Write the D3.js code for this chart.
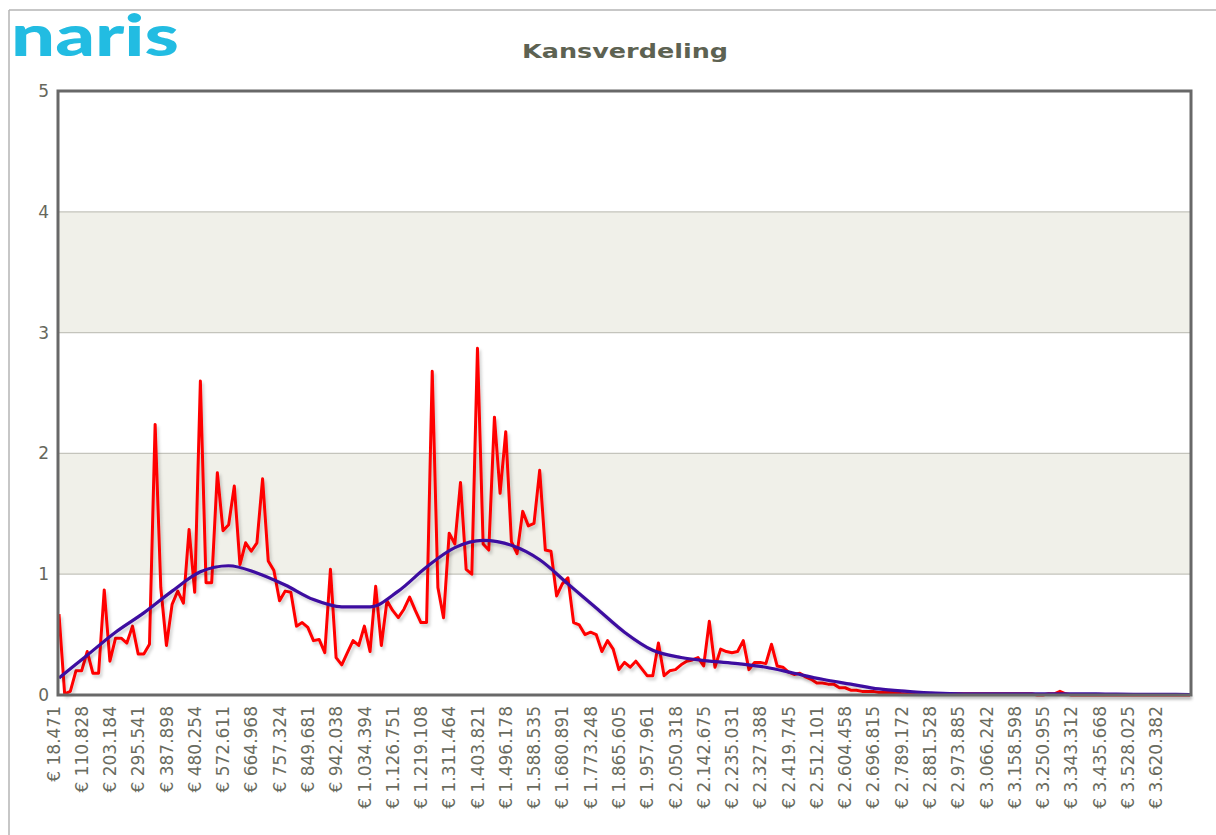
<!DOCTYPE html>
<html lang="nl">
<head>
<meta charset="UTF-8">
<title>Kansverdeling</title>
<script src="https://d3js.org/d3.v7.min.js"></script>
<style>
  body { margin: 0; background: #fff; }
  svg { display: block; }
</style>
</head>
<body>
<svg width="1216" height="835"></svg>
<script>
// tick labels on the x axis (one per 5 bins)
const xLabels = ["€ 18.471", "€ 110.828", "€ 203.184", "€ 295.541", "€ 387.898", "€ 480.254",
  "€ 572.611", "€ 664.968", "€ 757.324", "€ 849.681", "€ 942.038", "€ 1.034.394",
  "€ 1.126.751", "€ 1.219.108", "€ 1.311.464", "€ 1.403.821", "€ 1.496.178", "€ 1.588.535",
  "€ 1.680.891", "€ 1.773.248", "€ 1.865.605", "€ 1.957.961", "€ 2.050.318", "€ 2.142.675",
  "€ 2.235.031", "€ 2.327.388", "€ 2.419.745", "€ 2.512.101", "€ 2.604.458", "€ 2.696.815",
  "€ 2.789.172", "€ 2.881.528", "€ 2.973.885", "€ 3.066.242", "€ 3.158.598", "€ 3.250.955",
  "€ 3.343.312", "€ 3.435.668", "€ 3.528.025", "€ 3.620.382"];

const yTicks = [0, 1, 2, 3, 4, 5];

// red series: one value per bin (201 bins)
const redValues = [
  0.67, 0.01, 0.03, 0.20, 0.20, 0.36, 0.18, 0.18, 0.87, 0.28,
  0.47, 0.47, 0.43, 0.57, 0.34, 0.34, 0.42, 2.24, 0.89, 0.41,
  0.75, 0.86, 0.76, 1.37, 0.85, 2.60, 0.93, 0.93, 1.84, 1.36,
  1.41, 1.73, 1.08, 1.26, 1.19, 1.26, 1.79, 1.11, 1.03, 0.78,
  0.86, 0.85, 0.57, 0.60, 0.56, 0.45, 0.46, 0.35, 1.04, 0.31,
  0.25, 0.35, 0.45, 0.41, 0.57, 0.36, 0.90, 0.41, 0.78, 0.70,
  0.64, 0.71, 0.81, 0.70, 0.60, 0.60, 2.68, 0.89, 0.64, 1.34,
  1.25, 1.76, 1.04, 1.00, 2.87, 1.25, 1.20, 2.30, 1.67, 2.18,
  1.27, 1.17, 1.52, 1.40, 1.42, 1.86, 1.20, 1.19, 0.82, 0.92,
  0.97, 0.60, 0.58, 0.50, 0.52, 0.50, 0.36, 0.45, 0.38, 0.21,
  0.27, 0.23, 0.28, 0.22, 0.16, 0.16, 0.43, 0.16, 0.20, 0.21,
  0.25, 0.28, 0.29, 0.31, 0.24, 0.61, 0.23, 0.38, 0.36, 0.35,
  0.36, 0.45, 0.21, 0.27, 0.27, 0.26, 0.42, 0.24, 0.23, 0.19,
  0.17, 0.18, 0.15, 0.13, 0.10, 0.10, 0.09, 0.09, 0.06, 0.06,
  0.04, 0.04, 0.03, 0.03, 0.03, 0.02, 0.02, 0.02, 0.02, 0.01,
  0.01, 0.01, 0.01, 0.01, 0.01, 0.01, 0.01, 0.01, 0.01, 0.01,
  0.01, 0.01, 0.01, 0.01, 0.01, 0.01, 0.01, 0.01, 0.01, 0.01,
  0.01, 0.01, 0.01, 0.00, 0.00, 0.01, 0.01, 0.03, 0.01, 0.00,
  0.00, 0.00, 0.00, 0.00, 0.00, 0.00, 0.00, 0.00, 0.00, 0.00,
  0.00, 0.00, 0.00, 0.00, 0.00, 0.00, 0.00, 0.00, 0.00, 0.00,
  0.00
];

// blue (smoothed) series: one value every 5 bins
const blueValues = [
  0.14, 0.33, 0.52, 0.68, 0.86, 1.02, 1.07, 1.01, 0.91, 0.79,
  0.73, 0.73, 0.86, 1.06, 1.22, 1.28, 1.24, 1.12, 0.92, 0.72,
  0.52, 0.37, 0.31, 0.28, 0.26, 0.23, 0.18, 0.13, 0.09, 0.05,
  0.03, 0.015, 0.01, 0.01, 0.01, 0.01, 0.01, 0.008, 0.006, 0.005,
  0.004
];

const svg = d3.select("svg");
const plot = { left: 58, right: 1191, top: 91, bottom: 695 };

const x = d3.scaleLinear().domain([0, redValues.length - 1]).range([59, 1190]);
const y = d3.scaleLinear().domain([0, 5]).range([plot.bottom, plot.top]);

// page frame lines
svg.append("line").attr("x1", 9).attr("y1", 10).attr("x2", 1216).attr("y2", 10)
  .attr("stroke", "#b4b4b4").attr("stroke-width", 1.5);
svg.append("line").attr("x1", 9).attr("y1", 10).attr("x2", 9).attr("y2", 835)
  .attr("stroke", "#b4b4b4").attr("stroke-width", 1.5);

// logo
svg.append("text")
  .attr("x", 11).attr("y", 56)
  .attr("textLength", 168).attr("lengthAdjust", "spacingAndGlyphs")
  .style("font-family", "Lato, 'Open Sans', sans-serif")
  .style("font-weight", "900")
  .style("font-size", "58px")
  .style("fill", "#22bce2")
  .text("naris");

// title
svg.append("text")
  .attr("x", 625).attr("y", 58)
  .attr("text-anchor", "middle")
  .attr("textLength", 206).attr("lengthAdjust", "spacingAndGlyphs")
  .style("font-family", "'DejaVu Sans', Verdana, sans-serif")
  .style("font-weight", "bold")
  .style("font-size", "20px")
  .style("fill", "#5d6252")
  .text("Kansverdeling");

// alternating bands
const bands = [[1, 2], [3, 4]];
svg.selectAll("rect.band").data(bands).join("rect")
  .attr("class", "band")
  .attr("x", plot.left).attr("width", plot.right - plot.left)
  .attr("y", d => y(d[1])).attr("height", d => y(d[0]) - y(d[1]))
  .attr("fill", "#f0f0e9");

// grid lines
svg.selectAll("line.grid").data(yTicks.filter(t => t > 0 && t < 5)).join("line")
  .attr("class", "grid")
  .attr("x1", plot.left).attr("x2", plot.right)
  .attr("y1", d => y(d)).attr("y2", d => y(d))
  .attr("stroke", "#c4c4bc").attr("stroke-width", 1.2);

// y axis
const yAxis = svg.append("g")
  .attr("transform", `translate(${plot.left},0)`)
  .call(d3.axisLeft(y).tickValues(yTicks).tickSize(0).tickPadding(9).tickFormat(d3.format("d")));
yAxis.select(".domain").remove();
yAxis.selectAll("text")
  .style("font-family", "'DejaVu Sans', sans-serif")
  .style("font-size", "17px")
  .style("fill", "#66675c");

// x axis
const tickIdx = xLabels.map((d, i) => i * 5);
const xAxis = svg.append("g")
  .attr("transform", `translate(0,${plot.bottom})`)
  .call(d3.axisBottom(x).tickValues(tickIdx).tickSize(0).tickFormat((d, i) => xLabels[i]));
xAxis.select(".domain").remove();
xAxis.selectAll("text")
  .attr("transform", "translate(0,11) rotate(-90)")
  .attr("text-anchor", "end")
  .attr("x", 0).attr("y", 0).attr("dy", "0")
  .style("font-family", "'DejaVu Sans', sans-serif")
  .style("font-size", "17px")
  .style("fill", "#6a6c60");

// soft shadow for the lines
const defs = svg.append("defs");
const f = defs.append("filter").attr("id", "shadow").attr("x", "-5%").attr("y", "-5%")
  .attr("width", "110%").attr("height", "110%");
f.append("feDropShadow").attr("dx", 2).attr("dy", 3).attr("stdDeviation", 1.6)
  .attr("flood-color", "#000").attr("flood-opacity", 0.18);

const redLine = d3.line().x((d, i) => x(i)).y(d => y(d));
svg.append("path")
  .datum(redValues)
  .attr("d", redLine)
  .attr("fill", "none")
  .attr("stroke", "#ff0000")
  .attr("stroke-width", 3)
  .attr("stroke-linejoin", "round")
  .attr("filter", "url(#shadow)");

const blueLine = d3.line().x((d, i) => x(i * 5)).y(d => y(d)).curve(d3.curveMonotoneX);
svg.append("path")
  .datum(blueValues)
  .attr("d", blueLine)
  .attr("fill", "none")
  .attr("stroke", "#3c0aa0")
  .attr("stroke-width", 3.2)
  .attr("stroke-linejoin", "round")
  .attr("filter", "url(#shadow)");

// plot frame
svg.append("rect")
  .attr("x", plot.left).attr("y", plot.top)
  .attr("width", plot.right - plot.left).attr("height", plot.bottom - plot.top)
  .attr("fill", "none")
  .attr("stroke", "#686868")
  .attr("stroke-width", 3);
</script>
</body>
</html>
